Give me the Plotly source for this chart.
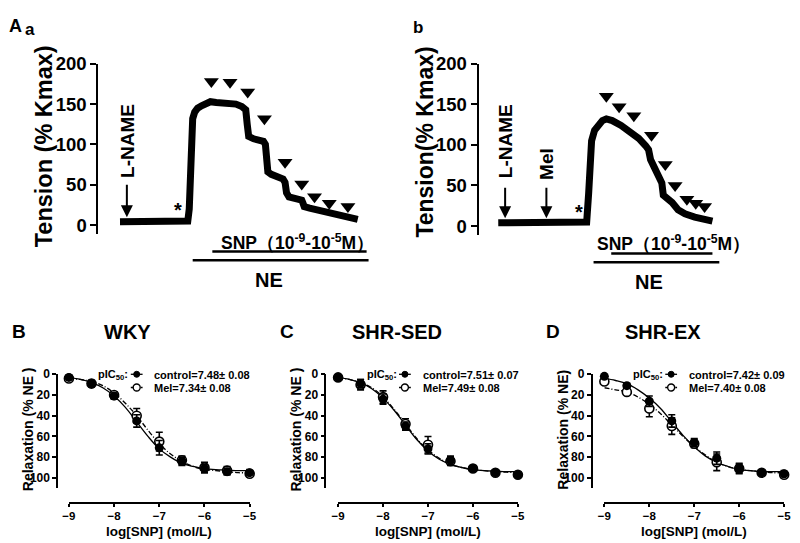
import plotly.graph_objects as go

W, H = 800, 543
def px(x): return x / W
def py(y): return 1 - y / H

FONT = "Liberation Sans"

# ---------------- data ----------------
# Panel A-a recording (time in arbitrary units, tension % Kmax)
a_time = [22, 40, 60, 80, 91, 92.5, 93.5, 94.5, 96, 98, 101, 105, 110, 114, 120, 128, 135, 140, 146, 150,
          151.5, 153, 158, 163, 168, 170, 171, 172.5, 176, 182, 188, 190, 191.5, 194, 200, 207, 208, 209.5,
          215, 222, 228, 234, 240, 248, 256, 264]
a_tension = [4, 4.5, 4.5, 4.5, 5, 20, 70, 110, 132, 140, 145, 148, 151, 153, 152, 152, 151, 150, 147, 143,
             125, 110, 107, 106, 104, 100, 80, 66, 63, 60, 57, 53, 40, 35, 33, 31, 28, 23,
             21, 19, 17, 14, 12, 10, 8, 7]
a_snp_time = [115, 134, 152, 169, 190, 207, 220, 235, 254]
a_snp_level = [178, 177, 165, 132, 78, 51, 35, 27, 23]

# Panel A-b recording
b_time = [20, 50, 80, 108, 110, 112, 113.5, 115, 118, 122, 126, 130, 136, 145, 153, 163, 170, 173, 175,
          179, 183, 186.5, 188, 192, 197, 203, 210, 220, 230, 238]
b_tension = [4, 4.5, 4.5, 4.5, 5, 40, 80, 105, 118, 126, 130, 132, 130, 124, 118, 108, 99, 94, 82,
             70, 60, 53, 38, 34, 29, 20, 15, 11, 8, 6]
b_snp_time = [130, 143, 158, 176, 190, 200, 212, 221, 230]
b_snp_level = [160, 147, 136, 112, 76, 50, 33, 28, 24]

# Concentration-response data
log_snp = [-9, -8.5, -8, -7.5, -7, -6.5, -6, -5.5, -5]
curve_x = [-9, -8.75, -8.5, -8.25, -8, -7.75, -7.5, -7.25, -7, -6.75, -6.5, -6.25, -6, -5.75, -5.5, -5.25, -5]

wky_ctrl = [3, 9, 21, 45, 71, 84, 91, 94, 95]
wky_ctrl_err = [1, 3, 3, 6, 7, 4, 4, 3, 3]
wky_mel = [4, 9, 20, 40, 65, 83, 90, 93, 96]
wky_mel_err = [1, 3, 3, 7, 9, 4, 5, 4, 3]
wky_ctrl_fit = [3, 5, 8, 13, 21, 32, 46, 60, 72, 80, 86, 89, 91, 92, 92.5, 93, 93]
wky_mel_fit = [4, 5, 7, 11, 18, 28, 40, 54, 67, 77, 84, 89, 92, 93, 94, 95, 95]

sed_ctrl = [3, 9, 24, 50, 72, 83, 91, 95, 97]
sed_ctrl_err = [1, 4, 5, 4, 5, 4, 2, 2, 2]
sed_mel = [3, 10, 22, 48, 68, 84, 91, 95, 97]
sed_mel_err = [1, 5, 6, 5, 8, 4, 2, 2, 2]
sed_ctrl_fit = [3, 5, 8, 14, 23, 35, 49, 63, 74, 82, 87, 90, 92, 93, 93.5, 94, 94]
sed_mel_fit = [3, 5, 8, 13, 22, 34, 48, 62, 73, 81, 87, 90, 92, 93, 94, 94.5, 95]

ex_ctrl = [2, 11, 26, 45, 66, 81, 91, 95, 96]
ex_ctrl_err = [1, 2, 5, 6, 4, 6, 4, 2, 3]
ex_mel = [7, 17, 33, 50, 67, 85, 91, 95, 97]
ex_mel_err = [2, 2, 8, 8, 4, 8, 5, 2, 3]
ex_ctrl_fit = [4, 6, 9, 15, 23, 33, 46, 59, 70, 79, 85, 89, 92, 93, 94, 94, 94]
ex_mel_fit = [13, 15, 17, 22, 29, 38, 49, 60, 70, 78, 85, 89, 92, 93, 94, 95, 95]

panels = [
    dict(title="WKY", letter="B", yline=51, x0=63, x1=247, ytitle="Relaxation (% NE )",
         ctrl=wky_ctrl, ctrl_err=wky_ctrl_err, mel=wky_mel, mel_err=wky_mel_err,
         ctrl_fit=wky_ctrl_fit, mel_fit=wky_mel_fit,
         ctrl_lab="control=7.48± 0.08", mel_lab="Mel=7.34± 0.08"),
    dict(title="SHR-SED", letter="C", yline=324, x0=337, x1=520, ytitle="Relaxation (% NE )",
         ctrl=sed_ctrl, ctrl_err=sed_ctrl_err, mel=sed_mel, mel_err=sed_mel_err,
         ctrl_fit=sed_ctrl_fit, mel_fit=sed_mel_fit,
         ctrl_lab="control=7.51± 0.07", mel_lab="Mel=7.49± 0.08"),
    dict(title="SHR-EX", letter="D", yline=595, x0=608, x1=791, ytitle="Relaxation (% NE)",
         ctrl=ex_ctrl, ctrl_err=ex_ctrl_err, mel=ex_mel, mel_err=ex_mel_err,
         ctrl_fit=ex_ctrl_fit, mel_fit=ex_mel_fit,
         ctrl_lab="control=7.42± 0.09", mel_lab="Mel=7.40± 0.08"),
]

fig = go.Figure()

def bold(size):
    return dict(family=FONT, size=size, color="black", weight="bold")

# ---------- top recordings ----------
fig.add_trace(go.Scatter(x=a_time, y=a_tension, mode="lines", line=dict(color="black", width=7),
                         xaxis="x", yaxis="y", showlegend=False, hoverinfo="skip"))
fig.add_trace(go.Scatter(x=a_snp_time, y=a_snp_level, mode="markers",
                         marker=dict(symbol="triangle-down", size=13, color="black"),
                         xaxis="x", yaxis="y", showlegend=False, cliponaxis=False))
fig.add_trace(go.Scatter(x=b_time, y=b_tension, mode="lines", line=dict(color="black", width=7),
                         xaxis="x2", yaxis="y2", showlegend=False, hoverinfo="skip"))
fig.add_trace(go.Scatter(x=b_snp_time, y=b_snp_level, mode="markers",
                         marker=dict(symbol="triangle-down", size=13, color="black"),
                         xaxis="x2", yaxis="y2", showlegend=False, cliponaxis=False))

top_y = dict(range=[-11, 200], showline=True, linewidth=2, linecolor="black", ticks="outside",
             ticklen=6, tickwidth=2, tickcolor="black", tickvals=[0, 50, 100, 150, 200],
             tickfont=bold(18.5), showgrid=False, zeroline=False)
layout = dict(
    width=W, height=H, margin=dict(l=0, r=0, t=0, b=0),
    paper_bgcolor="white", plot_bgcolor="rgba(0,0,0,0)", showlegend=False,
    xaxis=dict(domain=[px(93), px(373)], range=[0, 280], visible=False, anchor="y"),
    yaxis=dict(domain=[py(228), py(54)], anchor="x", **top_y),
    xaxis2=dict(domain=[px(480), px(740)], range=[0, 260], visible=False, anchor="y2"),
    yaxis2=dict(domain=[py(229), py(54)], anchor="x2", **top_y),
)

annotations = []
shapes = []

def ann(x, y, text, size, **kw):
    d = dict(x=px(x), y=py(y), xref="paper", yref="paper", text=text, showarrow=False,
             font=bold(size), xanchor="center", yanchor="middle")
    d.update(kw)
    annotations.append(d)

def arrow(x, ytop, ybot):
    annotations.append(dict(x=px(x), y=py(ybot), xref="paper", yref="paper", ax=0, ay=-(ybot - ytop),
                            axref="pixel", ayref="pixel", showarrow=True, arrowhead=2, arrowsize=1.2,
                            arrowwidth=2, arrowcolor="black", text=""))

def hline(x0, x1, y, width=2.5, dash="solid"):
    shapes.append(dict(type="line", xref="paper", yref="paper", x0=px(x0), x1=px(x1), y0=py(y), y1=py(y),
                       line=dict(color="black", width=width, dash=dash)))

# top labels
ann(9, 15, "A", 18)
ann(23, 19, "a", 17)
ann(418, 17, "b", 17)
ann(38, 138, "Tension (% Kmax)", 23.5, textangle=-90)
ann(425, 134, "Tension(% Kmax)", 23, textangle=-90)
ann(122, 133, "L-NAME", 19, textangle=-90)
arrow(122, 177, 211)
ann(174, 203, "*", 20)
ann(296, 236, "SNP（10<sup>-9</sup>-10<sup>-5</sup>M）", 17.5)
hline(209, 366, 246)
hline(189, 368, 255)
ann(267, 275, "NE", 20)

ann(507, 133, "L-NAME", 19, textangle=-90)
ann(549, 156, "Mel", 19, textangle=-90)
arrow(507, 180, 212)
arrow(549, 180, 212)
ann(582, 206, "*", 20)
ann(678, 237, "SNP（10<sup>-9</sup>-10<sup>-5</sup>M）", 17.5)
hline(615, 718, 248)
hline(597, 725, 257)
ann(653, 277, "NE", 20)

# ---------- bottom panels ----------
for i, p in enumerate(panels):
    n = i + 3
    xa, ya = f"x{n}", f"y{n}"
    fig.add_trace(go.Scatter(x=curve_x, y=p["mel_fit"], mode="lines", line=dict(color="black", width=1.3, dash="5px,2px,1px,2px"),
                             line_shape="spline", xaxis=xa, yaxis=ya, showlegend=False))
    fig.add_trace(go.Scatter(x=curve_x, y=p["ctrl_fit"], mode="lines", line=dict(color="black", width=1.3),
                             line_shape="spline", xaxis=xa, yaxis=ya, showlegend=False))
    fig.add_trace(go.Scatter(x=log_snp, y=p["mel"], mode="markers", cliponaxis=False,
                             marker=dict(symbol="circle", size=9, color="white", line=dict(color="black", width=1.6)),
                             error_y=dict(type="data", array=p["mel_err"], color="black", thickness=1.6, width=3.5),
                             xaxis=xa, yaxis=ya, showlegend=False))
    fig.add_trace(go.Scatter(x=log_snp, y=p["ctrl"], mode="markers", cliponaxis=False,
                             marker=dict(symbol="circle", size=9, color="black"),
                             error_y=dict(type="data", array=p["ctrl_err"], color="black", thickness=1.6, width=3.5),
                             xaxis=xa, yaxis=ya, showlegend=False))
    layout[f"xaxis{n}"] = dict(domain=[px(p["x0"]), px(p["x1"])], range=[-9, -5], anchor="free",
                               position=py(503), showline=True, linewidth=1.6, linecolor="black",
                               ticks="outside", ticklen=3, tickwidth=1.6, tickcolor="black",
                               tickvals=[-9, -8, -7, -6, -5], tickfont=bold(11.5),
                               showgrid=False, zeroline=False)
    layout[f"yaxis{n}"] = dict(domain=[py(488), py(371.5)], range=[110, 0], anchor="free",
                               position=px(p["yline"]), showline=True, linewidth=1.6, linecolor="black",
                               ticks="outside", ticklen=4, tickwidth=1.6, tickcolor="black",
                               tickvals=[0, 20, 40, 60, 80, 100], tickfont=bold(12),
                               showgrid=False, zeroline=False)
    yl = p["yline"]
    xmid = (p["x0"] + p["x1"]) / 2
    ann(yl - 39, 328, p["letter"], 19)
    ann(xmid - 32, 328, p["title"], 20)
    ann(yl - 30, 428, p["ytitle"], 14, textangle=-90)
    ann(xmid, 532, "log[SNP] (mol/L)", 13.5)
    # legend
    ann(yl + 40, 372, "pIC<sub>50</sub>:", 11, xanchor="left")
    hline(yl + 75, yl + 87, 371.5, width=1.3)
    shapes.append(dict(type="circle", xref="paper", yref="paper", xsizemode="pixel", ysizemode="pixel",
                       xanchor=px(yl + 81), yanchor=py(371.5), x0=-3, x1=3, y0=-3, y1=3,
                       fillcolor="black", line=dict(color="black", width=1)))
    hline(yl + 75, yl + 87, 385, width=1.3, dash="3px,2px")
    shapes.append(dict(type="circle", xref="paper", yref="paper", xsizemode="pixel", ysizemode="pixel",
                       xanchor=px(yl + 81), yanchor=py(385), x0=-3.5, x1=3.5, y0=-3.5, y1=3.5,
                       fillcolor="white", line=dict(color="black", width=1.4)))
    ann(yl + 97, 372, p["ctrl_lab"], 11, xanchor="left")
    ann(yl + 97, 385.5, p["mel_lab"], 11, xanchor="left")

layout["annotations"] = annotations
layout["shapes"] = shapes
fig.update_layout(**layout)
fig.write_html("out.html", post_script="document.body.style.margin='0';",
               config={"displayModeBar": False})
